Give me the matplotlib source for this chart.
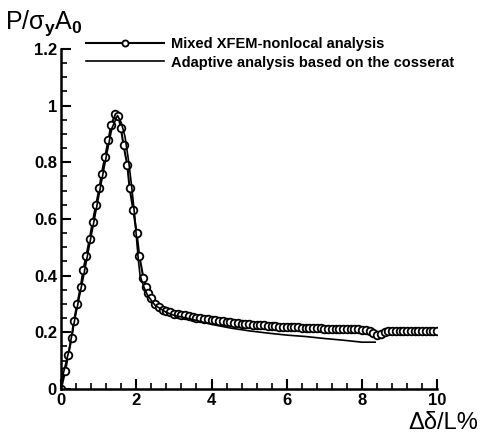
import numpy as np
import matplotlib
matplotlib.use("Agg")
import matplotlib.pyplot as plt
from matplotlib.ticker import MultipleLocator

plt.rcParams['font.family'] = ['Liberation Sans', 'DejaVu Sans']
plt.rcParams['mathtext.fontset'] = 'custom'
plt.rcParams['mathtext.rm'] = 'Liberation Sans'
plt.rcParams['mathtext.it'] = 'Liberation Sans'
plt.rcParams['mathtext.bf'] = 'Liberation Sans:bold'

# -------- Data --------
xfem_x = [0, 0.11, 0.19, 0.28, 0.34, 0.43, 0.52, 0.59, 0.67, 0.76, 0.84, 0.93,
          1.02, 1.08, 1.17, 1.26, 1.33, 1.44, 1.52, 1.59, 1.66, 1.76, 1.82,
          1.92, 2.01, 2.08, 2.19, 2.26, 2.32, 2.40, 2.50, 2.60, 2.70, 2.80,
          2.90, 3.0, 3.1, 3.2, 3.3, 3.4, 3.5, 3.6, 3.7, 3.8, 3.9, 4.0, 4.1,
          4.2, 4.3, 4.4, 4.5, 4.6, 4.7, 4.8, 4.9, 5.0, 5.1, 5.2, 5.3, 5.4,
          5.5, 5.6, 5.7, 5.8, 5.9, 6.0, 6.1, 6.2, 6.3, 6.4, 6.5, 6.6, 6.7,
          6.8, 6.9, 7.0, 7.1, 7.2, 7.3, 7.4, 7.5, 7.6, 7.7, 7.8, 7.9, 8.0,
          8.1, 8.2, 8.3, 8.4, 8.5, 8.6, 8.7, 8.8, 8.9, 9.0, 9.1, 9.2, 9.3,
          9.4, 9.5, 9.6, 9.7, 9.8, 9.9, 10.0]
xfem_y = [0, 0.063, 0.12, 0.18, 0.24, 0.30, 0.36, 0.42, 0.47, 0.53, 0.59, 0.65,
          0.71, 0.76, 0.82, 0.88, 0.93, 0.97, 0.965, 0.92, 0.86, 0.79, 0.71,
          0.63, 0.55, 0.47, 0.39, 0.36, 0.34, 0.32, 0.30, 0.29, 0.28, 0.275,
          0.27, 0.266, 0.264, 0.262, 0.260, 0.258, 0.255, 0.252, 0.250, 0.248,
          0.246, 0.244, 0.242, 0.240, 0.238, 0.236, 0.235, 0.233, 0.232, 0.230,
          0.229, 0.228, 0.227, 0.226, 0.225, 0.224, 0.223, 0.222, 0.221, 0.220,
          0.219, 0.218, 0.218, 0.217, 0.217, 0.216, 0.216, 0.215, 0.215, 0.214,
          0.214, 0.213, 0.213, 0.212, 0.212, 0.212, 0.211, 0.211, 0.211, 0.210,
          0.210, 0.209, 0.208, 0.205, 0.198, 0.190, 0.194, 0.200, 0.203, 0.205,
          0.205, 0.206, 0.206, 0.206, 0.206, 0.206, 0.206, 0.206, 0.206, 0.206,
          0.206, 0.206]

coss_x = [0, 0.05, 0.2, 0.4, 0.6, 0.8, 1.0, 1.2, 1.35, 1.5, 1.6, 1.7, 1.8,
          1.88, 1.95, 2.0, 2.05, 2.1, 2.2, 2.3, 2.5, 2.8, 3.0, 3.5, 4.0,
          4.5, 5.0, 5.5, 6.0, 6.5, 7.0, 7.5, 8.0, 8.35]
coss_y = [0, 0.05, 0.13, 0.27, 0.40, 0.54, 0.68, 0.82, 0.92, 0.965, 0.94,
          0.89, 0.80, 0.71, 0.62, 0.54, 0.46, 0.40, 0.36, 0.33, 0.295, 0.27,
          0.26, 0.245, 0.228, 0.215, 0.205, 0.197, 0.19, 0.185, 0.178, 0.172,
          0.165, 0.165]

# -------- Plot --------
fig = plt.figure(figsize=(4.81, 4.37), dpi=100)
ax = fig.add_axes([0.127, 0.110, 0.782, 0.778])

ax.plot(xfem_x, xfem_y, color='black', lw=1.5, marker='o', ms=5.5,
        mfc='white', mec='black', mew=1.3,
        label='Mixed XFEM-nonlocal analysis')
ax.plot(coss_x, coss_y, color='black', lw=1.2,
        label='Adaptive analysis based on the cosserat')

ax.set_xlim(0, 10)
ax.set_ylim(0, 1.2)
ax.xaxis.set_major_locator(MultipleLocator(2))
ax.xaxis.set_minor_locator(MultipleLocator(0.4))
ax.yaxis.set_major_locator(MultipleLocator(0.2))
ax.yaxis.set_minor_locator(MultipleLocator(0.05))


def fmt(v, pos):
    return '%g' % round(v, 2)


ax.xaxis.set_major_formatter(plt.FuncFormatter(fmt))
ax.yaxis.set_major_formatter(plt.FuncFormatter(fmt))

for s in ['top', 'right']:
    ax.spines[s].set_visible(False)
for s in ['left', 'bottom']:
    ax.spines[s].set_linewidth(1.8)

ax.tick_params(which='major', direction='in', length=7, width=1.5,
               labelsize=12, pad=3)
ax.tick_params(which='minor', direction='in', length=4, width=1.2)
for lab in ax.get_xticklabels() + ax.get_yticklabels():
    lab.set_fontweight('bold')

fig.text(0.01, 0.98, r'$\mathrm{P/\sigma_{\mathbf{y}}A_{\mathbf{0}}}$',
         fontsize=18, ha='left', va='top')
fig.text(0.995, 0.008, 'Δδ/L%', fontsize=17, ha='right', va='bottom')

leg = fig.legend(loc='upper left', bbox_to_anchor=(0.152, 0.945),
                 frameon=False, numpoints=1, handlelength=5.3,
                 handletextpad=0.5, labelspacing=0.3, markerscale=0.8,
                 prop={'weight': 'bold', 'size': 10.5})

fig.savefig("out.png", dpi=100)
